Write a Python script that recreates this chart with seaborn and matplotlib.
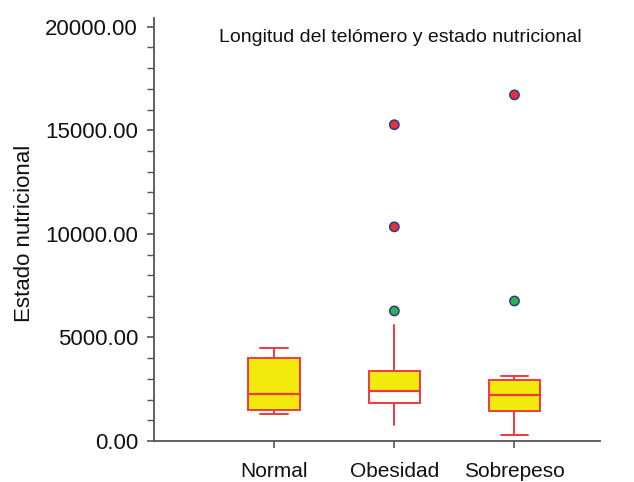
import numpy as np
import pandas as pd
import matplotlib
matplotlib.use("Agg")
import matplotlib.pyplot as plt
import seaborn as sns
from matplotlib.ticker import MultipleLocator, FormatStrFormatter

# ---- data ----
categories = ["Normal", "Obesidad", "Sobrepeso"]
whisker_low = [1300, 750, 300]
q1 = [1500, 1850, 1450]
median = [2250, 2400, 2200]
q3 = [4000, 3400, 2950]
whisker_high = [4500, 5600, 3150]
has_caps = [True, False, True]

outlier_cat = ["Obesidad", "Obesidad", "Obesidad", "Sobrepeso", "Sobrepeso"]
outlier_val = [6280, 10340, 15270, 6760, 16710]
outlier_kind = ["atípico", "extremo", "extremo", "atípico", "extremo"]

title = "Longitud del telómero y estado nutricional"
ylabel = "Estado nutricional"

# ---- style ----
sns.set_style("ticks")
plt.rcParams['font.family'] = ['Liberation Sans', 'DejaVu Sans']

YELLOW = "#F3EA0D"
RED = "#EE3A3F"
AXC = "#555555"
TXT = "#111111"

fig = plt.figure(figsize=(6.34, 4.82), dpi=100)
ax = fig.add_axes([0.243, 0.085, 0.703, 0.878])

positions = np.arange(len(categories))
box_w = 0.43
stats = [dict(label=c, whislo=wl, q1=a, med=m, q3=b, whishi=wh, fliers=[])
         for c, wl, a, m, b, wh in zip(categories, whisker_low, q1, median, q3, whisker_high)]
bp = ax.bxp(stats, positions=positions, widths=box_w, patch_artist=True,
            showfliers=False,
            capwidths=[0.23 if c else 0.0 for c in has_caps],
            boxprops=dict(facecolor=YELLOW, edgecolor=RED, linewidth=1.4),
            medianprops=dict(color=RED, linewidth=1.6),
            whiskerprops=dict(color=RED, linewidth=1.4),
            capprops=dict(color=RED, linewidth=1.4))

# Obesidad box: lower half white, upper half yellow (as in the reference)
i = categories.index("Obesidad")
bp["boxes"][i].set_facecolor("none")
xs = [positions[i] - box_w / 2, positions[i] + box_w / 2]
ax.fill_between(xs, q1[i], median[i], color="white", zorder=1.5, linewidth=0)
ax.fill_between(xs, median[i], q3[i], color=YELLOW, zorder=1.5, linewidth=0)

# outliers
out_df = pd.DataFrame({
    "x": [positions[categories.index(c)] for c in outlier_cat],
    "y": outlier_val,
    "kind": outlier_kind,
})
sns.scatterplot(data=out_df, x="x", y="y", hue="kind",
                palette={"atípico": "#2DB34A", "extremo": "#E8303A"},
                s=45, edgecolor="#2B3A8C", linewidth=1.1, legend=False,
                zorder=5, ax=ax)

# axes
ax.set_xlim(-1.0, 2.71)
ax.set_ylim(0, 20430)
ax.set_xticks(positions)
ax.set_xticklabels(categories, fontsize=15)
ax.yaxis.set_major_locator(MultipleLocator(5000))
ax.yaxis.set_minor_locator(MultipleLocator(1000))
ax.yaxis.set_major_formatter(FormatStrFormatter("%.2f"))
ax.tick_params(axis="y", which="major", labelsize=16, length=5, width=1.2,
               color=AXC, pad=6.5, labelcolor=TXT)
ax.tick_params(axis="y", which="minor", length=5, width=1.0, color=AXC)
ax.tick_params(axis="x", length=5, width=1.2, color=AXC, pad=10, labelcolor=TXT)
ax.set_xlabel("")
ax.set_ylabel(ylabel, fontsize=16, color=TXT)
ax.yaxis.set_label_coords(-0.268, 0.49)
for s in ["top", "right"]:
    ax.spines[s].set_visible(False)
for s in ["left", "bottom"]:
    ax.spines[s].set_color(AXC)
    ax.spines[s].set_linewidth(1.3)

ax.text(0.552, 0.953, title, transform=ax.transAxes, ha="center", va="center",
        fontsize=14, color=TXT)

fig.savefig("out.png", dpi=100)
